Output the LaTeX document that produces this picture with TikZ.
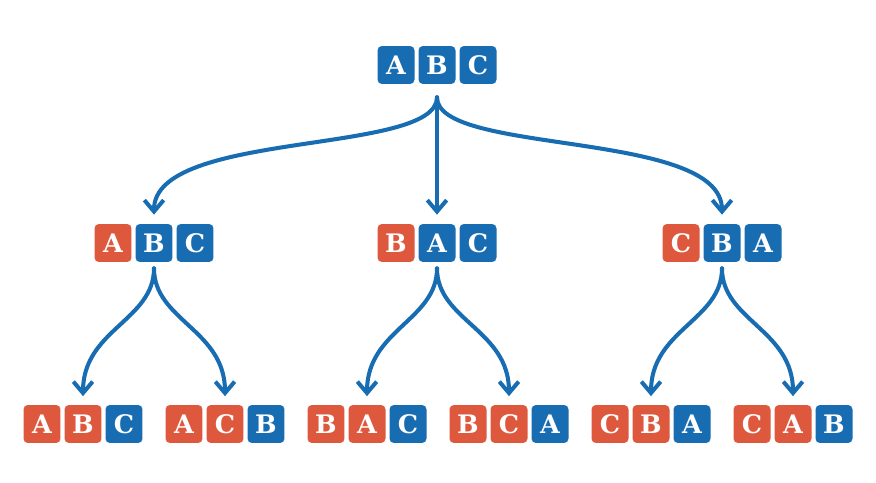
\documentclass[tikz,border=0pt]{standalone}
\usepackage{fontspec}
\setmainfont{DejaVu Serif}
\usetikzlibrary{arrows.meta}
\definecolor{permblue}{RGB}{24,108,178}
\definecolor{permred}{RGB}{222,88,62}
\tikzset{
    tile/.style={
        fill=#1,
        rounded corners=2.5pt,
        minimum width=0.74cm,
        minimum height=0.76cm,
        inner sep=0pt,
        text=white,
        font=\fontsize{14.5}{14.5}\selectfont\bfseries
    },
    every edge/.style={
        draw=permblue,
        line width=2.3pt,
        line cap=round,
        -{Straight Barb[length=6.5pt,width=11pt]}
    },
    branch/.style={out=-90, in=90}
}
% one row of three tiles: name, x, y, colour/letter list
\newcommand{\permrow}[4]{%
    \foreach \clr/\ltr [count=\i] in {#4}
        \node[tile=\clr] (#1-\i) at ({#2+(\i-2)*41},#3) {\ltr};
}

\begin{document}
\begin{tikzpicture}[x=0.02cm, y=-0.02cm]
	\useasboundingbox (0,0) rectangle (876,483);
	\permrow{top}{437}{65}{permblue/A,permblue/B,permblue/C}
	\permrow{l}{154}{243}{permred/A,permblue/B,permblue/C}
	\permrow{m}{437}{243}{permred/B,permblue/A,permblue/C}
	\permrow{r}{722}{243}{permred/C,permblue/B,permblue/A}
	\permrow{ll}{83}{424}{permred/A,permred/B,permblue/C}
	\permrow{lr}{225}{424}{permred/A,permred/C,permblue/B}
	\permrow{ml}{367}{424}{permred/B,permred/A,permblue/C}
	\permrow{mr}{509}{424}{permred/B,permred/C,permblue/A}
	\permrow{rl}{651}{424}{permred/C,permred/B,permblue/A}
	\permrow{rr}{793}{424}{permred/C,permred/A,permblue/B}
	\draw[shorten <=0.26cm, shorten >=0.18cm]
	(top-2.south) edge[branch, out distance=1.42cm, in distance=1.88cm] (l-2.north)
	(top-2.south) edge (m-2.north)
	(top-2.south) edge[branch, out distance=1.42cm, in distance=1.88cm] (r-2.north);
	\draw[shorten <=0.12cm, shorten >=0.17cm]
	(l-2.south) edge[branch, out distance=1.16cm, in distance=1.5cm] (ll-2.north)
	(l-2.south) edge[branch, out distance=1.16cm, in distance=1.5cm] (lr-2.north)
	(m-2.south) edge[branch, out distance=1.16cm, in distance=1.5cm] (ml-2.north)
	(m-2.south) edge[branch, out distance=1.16cm, in distance=1.5cm] (mr-2.north)
	(r-2.south) edge[branch, out distance=1.16cm, in distance=1.5cm] (rl-2.north)
	(r-2.south) edge[branch, out distance=1.16cm, in distance=1.5cm] (rr-2.north);
\end{tikzpicture}
\end{document}
